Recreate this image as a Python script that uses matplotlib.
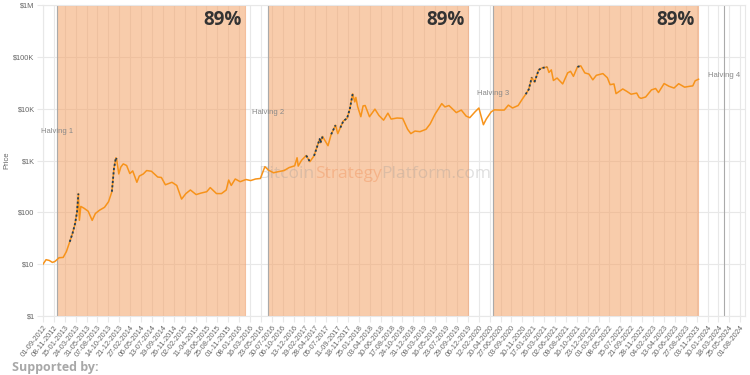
import numpy as np
import pandas as pd
import matplotlib
matplotlib.use('Agg')
import matplotlib.pyplot as plt


# bitcoin price (usd), read off the chart / rough history
dates = ['2012-09-01', '2012-09-20', '2012-10-10', '2012-10-30', '2012-11-15', '2012-12-10', '2013-01-05',
         '2013-01-25', '2013-02-15', '2013-03-05', '2013-03-20', '2013-04-01', '2013-04-10', '2013-04-16',
         '2013-04-25', '2013-05-15', '2013-06-10', '2013-07-05', '2013-07-25', '2013-08-20', '2013-09-20',
         '2013-10-15', '2013-11-05', '2013-11-18', '2013-11-30', '2013-12-05', '2013-12-18', '2013-12-31',
         '2014-01-15', '2014-02-05', '2014-02-25', '2014-03-15', '2014-04-10', '2014-04-25', '2014-05-20',
         '2014-06-10', '2014-07-10', '2014-08-18', '2014-09-10', '2014-10-05', '2014-11-15', '2014-12-15',
         '2015-01-14', '2015-02-10', '2015-03-10', '2015-04-15', '2015-05-15', '2015-06-20', '2015-07-12',
         '2015-08-20', '2015-09-20', '2015-10-20', '2015-11-04', '2015-11-20', '2015-12-15', '2016-01-15',
         '2016-02-20', '2016-03-20', '2016-04-20', '2016-05-20', '2016-06-17', '2016-07-10', '2016-08-10',
         '2016-09-10', '2016-10-15', '2016-11-15', '2016-12-20', '2017-01-04', '2017-01-11', '2017-02-01',
         '2017-03-02', '2017-03-25', '2017-04-20', '2017-05-25', '2017-05-30', '2017-06-12', '2017-07-16',
         '2017-08-05', '2017-09-01', '2017-09-15', '2017-10-01', '2017-10-20', '2017-11-12', '2017-11-29',
         '2017-12-17', '2017-12-30', '2018-01-06', '2018-01-17', '2018-02-06', '2018-02-20', '2018-03-05',
         '2018-04-01', '2018-05-05', '2018-05-30', '2018-06-28', '2018-07-25', '2018-08-14', '2018-09-20',
         '2018-10-25', '2018-11-25', '2018-12-15', '2019-01-10', '2019-02-10', '2019-03-20', '2019-04-15',
         '2019-05-15', '2019-06-26', '2019-07-16', '2019-08-10', '2019-09-25', '2019-10-26', '2019-11-25',
         '2019-12-18', '2020-01-20', '2020-02-13', '2020-03-12', '2020-03-30', '2020-04-30', '2020-05-20',
         '2020-06-20', '2020-07-20', '2020-08-15', '2020-09-10', '2020-10-15', '2020-11-10', '2020-12-01',
         '2020-12-20', '2021-01-08', '2021-01-25', '2021-02-20', '2021-03-13', '2021-04-14', '2021-04-25',
         '2021-05-10', '2021-05-23', '2021-06-15', '2021-07-20', '2021-08-20', '2021-09-07', '2021-09-25',
         '2021-10-20', '2021-11-10', '2021-12-05', '2021-12-31', '2022-01-24', '2022-02-15', '2022-03-28',
         '2022-04-25', '2022-05-12', '2022-06-05', '2022-06-18', '2022-07-30', '2022-08-25', '2022-09-20',
         '2022-10-25', '2022-11-09', '2022-11-21', '2022-12-20', '2023-01-25', '2023-02-20', '2023-03-10',
         '2023-04-14', '2023-05-15', '2023-06-15', '2023-07-14', '2023-08-20', '2023-09-20', '2023-10-10',
         '2023-10-25', '2023-11-15']
prices = [10.0, 12.2, 11.8, 10.8, 11.3, 13.3, 13.5,
          17.5, 27, 40, 60, 100, 230, 70,
          130, 120, 105, 70, 95, 110, 125,
          160, 250, 700, 1130, 1050, 550, 750,
          860, 800, 560, 630, 380, 500, 550,
          640, 620, 480, 470, 340, 380, 330,
          180, 230, 270, 220, 235, 250, 300,
          230, 230, 270, 420, 330, 440, 390,
          430, 410, 440, 450, 760, 650, 580,
          610, 640, 730, 790, 1130, 780, 1010,
          1250, 950, 1230, 2600, 2200, 2900, 1930,
          3200, 4800, 3300, 4300, 5800, 6500, 9800,
          19300, 13500, 16500, 11000, 7000, 11300, 11500,
          7000, 9800, 7400, 6000, 8200, 6300, 6600,
          6500, 4000, 3300, 3700, 3600, 4000, 5100,
          7800, 12500, 10800, 11500, 8400, 9400, 7200,
          6700, 8700, 10300, 4900, 6300, 8700, 9500,
          9400, 9400, 11700, 10300, 11500, 15300, 19000,
          23500, 40000, 32500, 56000, 61000, 63500, 50000,
          56000, 35000, 39000, 30000, 49000, 52500, 42000,
          64000, 67000, 49000, 46500, 36000, 44000, 47500,
          39500, 29000, 30000, 19500, 24000, 21500, 19000,
          20000, 16500, 15800, 16800, 23000, 24500, 20500,
          30500, 27000, 25000, 30300, 26000, 27000, 27500,
          34500, 37000]

# stretches drawn as dark dots on top of the price line
highlight = [('2013-02-15', '2013-04-10'), ('2013-11-05', '2013-12-05'),
             ('2017-03-02', '2017-03-25'), ('2017-04-20', '2017-06-12'),
             ('2017-08-05', '2017-09-01'), ('2017-10-01', '2017-12-17'),
             ('2020-12-01', '2021-01-08'), ('2021-01-25', '2021-04-14'),
             ('2021-10-20', '2021-11-10')]

halvings = ['2012-11-28', '2016-07-09', '2020-05-11', '2024-04-20']
halving_labels = ['Halving 1', 'Halving 2', 'Halving 3', 'Halving 4']
label_y = [3700, 8600, 20000, 44600]
cycle_pct = 89

yticks = [1, 10, 100, 1000, 10000, 100000, 1000000]
ytick_labels = ['$1', '$10', '$100', '$1K', '$10K', '$100K', '$1M']

dates = pd.to_datetime(dates)
prices = np.array(prices, dtype=float)
halvings = pd.to_datetime(halvings)

orange = '#F7931A'
navy = '#1f3e5a'
grid_c = '#e8e8e8'

fig = plt.figure(figsize=(7.5, 3.75), dpi=100)
ax = fig.add_axes([43/750, 1-316/375, 702/750, 311/375])

ax.set_yscale('log')
ax.set_ylim(1, 1e6)
ax.set_xlim(pd.Timestamp('2012-09-01'), pd.Timestamp('2024-08-31'))

# grid under the shading so the lines show through it
ax.set_axisbelow(True)
ax.grid(True, which='major', color=grid_c, linewidth=0.8)
ax.minorticks_off()

# shaded first 89% of each halving cycle
for i in range(3):
    start = halvings[i]
    end = start + (halvings[i+1] - start) * (cycle_pct / 100)
    ax.axvspan(start, end, facecolor='#F4A266', alpha=0.55, edgecolor='#f0a070', linewidth=0.8, zorder=1)
    ax.text(end - pd.Timedelta(days=22), 10**5.72, str(cycle_pct) + '%', ha='right', va='center',
            fontsize=13.5, fontweight='bold', color='#333333', family='Open Sans', zorder=5)

for h, lab, yy in zip(halvings, halving_labels, label_y):
    ax.axvline(h, color='#aaaaaa', linewidth=0.8, zorder=1.5)
    ax.text(h, yy, lab, ha='center', va='center', fontsize=5.5, color='#888888',
            family='Liberation Sans', zorder=5)

ax.plot(dates, prices, color=orange, linewidth=1.1, zorder=3)
for s, e in highlight:
    m = (dates >= pd.Timestamp(s)) & (dates <= pd.Timestamp(e))
    ax.plot(dates[m], prices[m], color=navy, linewidth=1.3, linestyle=(0, (1.2, 1.2)), zorder=4)

ax.set_yticks(yticks)
ax.set_yticklabels(ytick_labels)

xt = pd.date_range('2012-09-01', '2024-08-01', freq='68D')
ax.set_xticks(xt)
ax.set_xticklabels([d.strftime('%d-%m-%Y') for d in xt], rotation=52, ha='right',
                   rotation_mode='anchor')

ax.tick_params(axis='both', length=4, color=grid_c, labelcolor='#666666', labelsize=5.3, pad=2)
for lab in ax.get_xticklabels() + ax.get_yticklabels():
    lab.set_family('Liberation Sans')
for sp in ax.spines.values():
    sp.set_color(grid_c)
    sp.set_linewidth(0.8)

ax.set_ylabel('Price', fontsize=5.5, color='#666666', family='Liberation Sans')
ax.yaxis.set_label_coords(-0.047, 0.5)

# watermark with the middle word in orange, under the price line
fig.canvas.draw()
renderer = fig.canvas.get_renderer()
parts = [('Bitcoin', '#999999'), ('Strategy', '#ee7a3a'), ('Platform.com', '#999999')]
texts = []
widths = []
for word, col in parts:
    t = ax.text(0, 0, word, fontsize=12.5, color=col, family='Open Sans', alpha=0.3,
                va='center', ha='left', zorder=2, transform=fig.transFigure)
    widths.append(t.get_window_extent(renderer).width)
    texts.append(t)
total = sum(widths)
x0 = 375 - total / 2
for t, w in zip(texts, widths):
    t.set_position((x0 / 750, 1 - 174 / 375))
    x0 += w

fig.text(12/750, 1 - 367/375, 'Supported by:', fontsize=9, fontweight='bold', color='#a8a8a8',
         family='Open Sans', ha='left', va='center')

plt.savefig('out.png', dpi=100)
